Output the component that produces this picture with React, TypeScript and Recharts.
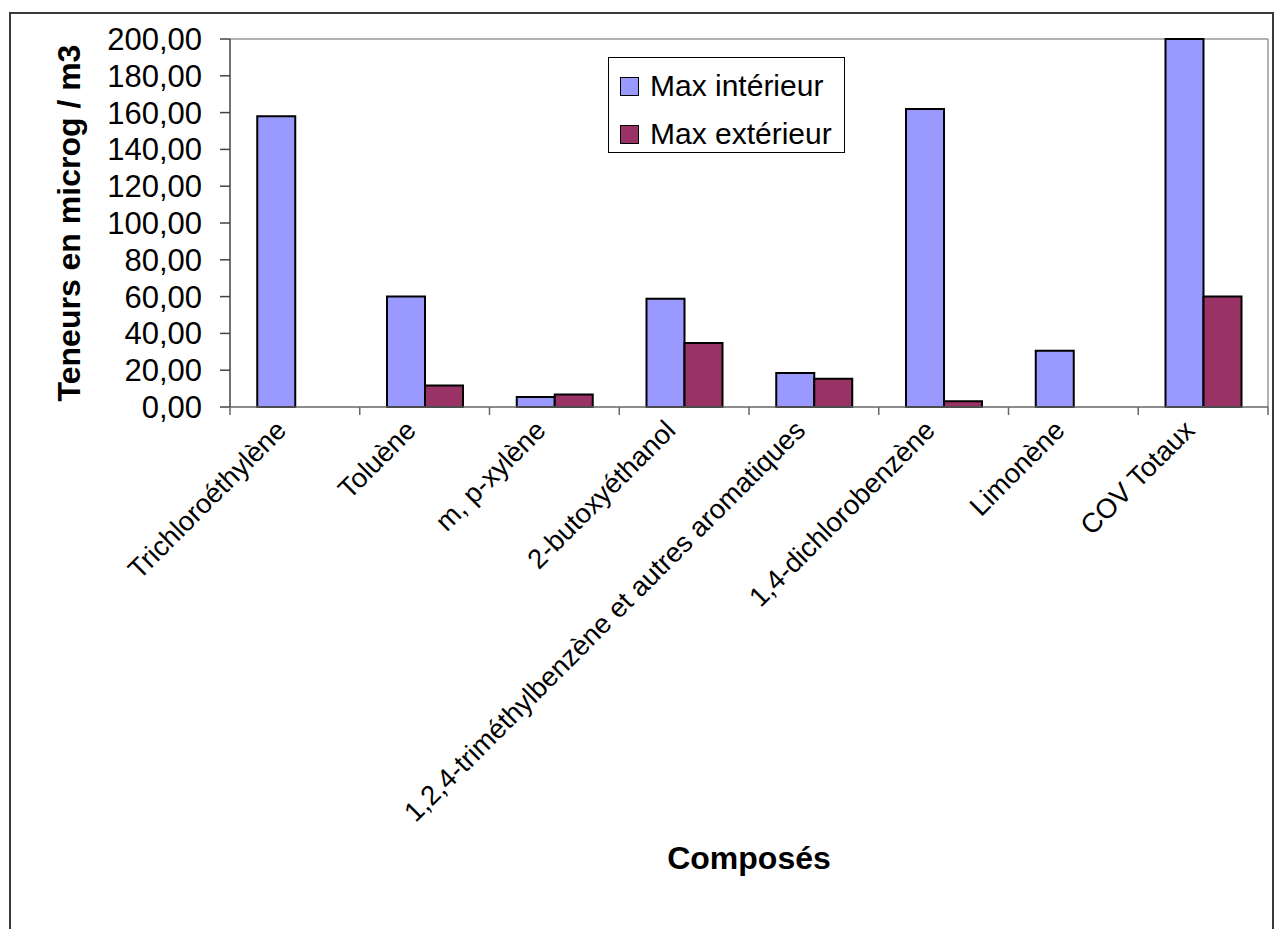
import type { ReactElement } from 'react'
import { BarChart, Bar, XAxis, YAxis, CartesianGrid, Legend, Label } from 'recharts'

// Composés mesurés (µg/m3), valeurs max intérieur / extérieur
const compounds = [
  'Trichloroéthylène',
  'Toluène',
  'm, p-xylène',
  '2-butoxyéthanol',
  '1,2,4-triméthylbenzène et autres aromatiques',
  '1,4-dichlorobenzène',
  'Limonène',
  'COV Totaux',
]
const seriesNames = ['Max intérieur', 'Max extérieur']
const maxInterieur = [158, 60, 5.5, 58.8, 18.5, 162, 30.6, 200]
const maxExterieur: (number | null)[] = [null, 11.7, 6.8, 34.8, 15.3, 3.1, null, 60]
const yTicks = [0, 20, 40, 60, 80, 100, 120, 140, 160, 180, 200]

const data = compounds.map((name, i) => ({
  name,
  interieur: maxInterieur[i],
  exterieur: maxExterieur[i],
}))

const FONT = '"Liberation Sans", Arial, sans-serif'
const BLUE = '#9999ff'
const PLUM = '#993366'

const formatFr = (v: number) => v.toFixed(2).replace('.', ',')

// tick label rotated 45°, plus the small marks at the category boundaries
function CategoryTick(props: any): ReactElement {
  const { x, y, payload, index, visibleTicksCount, width } = props
  const band = width && visibleTicksCount ? width / visibleTicksCount : 0
  const left = x - band / 2
  return (
    <g>
      {band > 0 && <line x1={left} x2={left} y1={y} y2={y + 8} stroke="#666" strokeWidth={1.5} />}
      {band > 0 && index === visibleTicksCount - 1 && (
        <line x1={left + band} x2={left + band} y1={y} y2={y + 8} stroke="#666" strokeWidth={1.5} />
      )}
      <text
        transform={`translate(${x - 7},${y + 25}) rotate(-45)`}
        textAnchor="end"
        fontSize={27.5}
        fontFamily={FONT}
        fill="#000"
      >
        {payload.value}
      </text>
    </g>
  )
}

function LegendBox({ payload }: any): ReactElement {
  const items = [...(payload || [])].sort(
    (a: any, b: any) => seriesNames.indexOf(a.value) - seriesNames.indexOf(b.value),
  )
  return (
    <div
      style={{
        width: 237,
        height: 96,
        boxSizing: 'border-box',
        border: '1.5px solid #000',
        background: '#fff',
        paddingTop: 4,
        fontFamily: FONT,
        fontSize: 30,
        color: '#000',
      }}
    >
      {items.map((entry: any) => (
        <div key={entry.value} style={{ display: 'flex', alignItems: 'center', height: 48 }}>
          <span
            style={{
              display: 'inline-block',
              width: 19,
              height: 19,
              boxSizing: 'border-box',
              marginLeft: 11,
              marginRight: 11,
              background: entry.color,
              border: '1.5px solid #000',
            }}
          />
          <span>{entry.value}</span>
        </div>
      ))}
    </div>
  )
}

export default function App(): ReactElement {
  return (
    <div style={{ position: 'absolute', left: 0, top: 0, width: 1276, height: 929, overflow: 'hidden', background: '#fff' }}>
      <div
        style={{
          position: 'absolute',
          left: 9,
          top: 12,
          width: 1265,
          height: 1000,
          boxSizing: 'border-box',
          border: '2px solid #3a3a3a',
        }}
      />
      <BarChart
        width={1276}
        height={929}
        data={data}
        margin={{ top: 39, right: 8, left: 10, bottom: 22 }}
        barCategoryGap="21%"
        barGap={0}
        style={{ position: 'absolute', left: 0, top: 0 }}
      >
        <CartesianGrid
          stroke="#999"
          strokeWidth={1.5}
          horizontalCoordinatesGenerator={({ offset }: any) => [offset.top]}
          verticalCoordinatesGenerator={({ offset }: any) => [offset.left + offset.width]}
        />
        <XAxis
          dataKey="name"
          height={500}
          interval={0}
          tickLine={false}
          tickSize={0}
          tickMargin={0}
          axisLine={{ stroke: '#666', strokeWidth: 1.5 }}
          tick={<CategoryTick />}
        >
          <Label
            content={({ viewBox }: any) => (
              <text
                x={viewBox.x + viewBox.width / 2}
                y={viewBox.y + 462}
                textAnchor="middle"
                fontSize={32}
                fontWeight="bold"
                fontFamily={FONT}
                fill="#000"
              >
                Composés
              </text>
            )}
          />
        </XAxis>
        <YAxis
          width={220}
          domain={[0, 200]}
          ticks={yTicks}
          interval={0}
          tickFormatter={formatFr}
          tickSize={10}
          tickMargin={18}
          tickLine={{ stroke: '#444', strokeWidth: 1.5 }}
          axisLine={{ stroke: '#444', strokeWidth: 1.5 }}
          tick={{ fill: '#000', fontSize: 31, fontFamily: FONT }}
        >
          <Label
            content={({ viewBox }: any) => (
              <text
                transform={`translate(${viewBox.x + 70},${viewBox.y + viewBox.height / 2}) rotate(-90)`}
                textAnchor="middle"
                fontSize={32}
                fontWeight="bold"
                fontFamily={FONT}
                fill="#000"
              >
                Teneurs en microg / m3
              </text>
            )}
          />
        </YAxis>
        <Legend
          layout="vertical"
          align="center"
          verticalAlign="middle"
          content={<LegendBox />}
          wrapperStyle={{ position: 'absolute', left: 608, top: 57, width: 237, height: 96 }}
        />
        <Bar dataKey="interieur" name={seriesNames[0]} fill={BLUE} stroke="#000" strokeWidth={2} isAnimationActive={false} />
        <Bar dataKey="exterieur" name={seriesNames[1]} fill={PLUM} stroke="#000" strokeWidth={2} isAnimationActive={false} />
      </BarChart>
    </div>
  )
}
